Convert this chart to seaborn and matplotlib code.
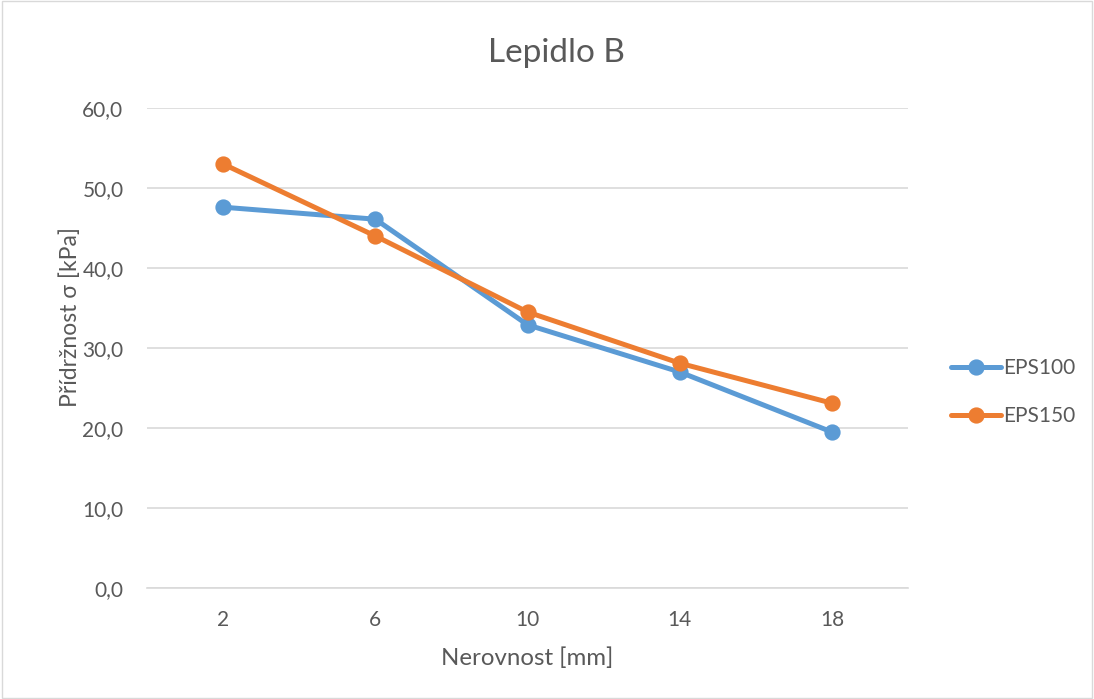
import matplotlib
matplotlib.use("Agg")
import matplotlib.pyplot as plt
import seaborn as sns
import pandas as pd
from matplotlib.patches import Rectangle
from matplotlib.ticker import FuncFormatter

categories = ["2", "6", "10", "14", "18"]
eps100 = [47.6, 46.1, 32.9, 27.0, 19.5]
eps150 = [53.0, 44.0, 34.5, 28.1, 23.1]
series_names = ["EPS100", "EPS150"]
colors = ["#5B9BD5", "#ED7D31"]

df = pd.DataFrame({
    "Nerovnost": categories * 2,
    "value": eps100 + eps150,
    "series": [series_names[0]] * len(categories) + [series_names[1]] * len(categories),
})

sns.set_theme(style="white")
plt.rcParams["font.family"] = ["Lato", "DejaVu Sans"]
txt = "#595959"

fig = plt.figure(figsize=(10.94, 6.99), dpi=100)
ax = fig.add_axes([0.1344, 0.1588, 0.830 - 0.1344, 0.8455 - 0.1588])

sns.pointplot(data=df, x="Nerovnost", y="value", hue="series", order=categories,
              hue_order=series_names, palette=colors, markers="o", linestyles="-",
              ax=ax, errorbar=None, markersize=9, linewidth=3.6)

ax.set_xlim(-0.5, len(categories) - 0.5)
ax.set_ylim(0, 60)
ax.set_yticks(range(0, 61, 10))
ax.yaxis.set_major_formatter(FuncFormatter(lambda v, p: f"{v:.1f}".replace(".", ",")))
ax.grid(axis="y", color="#D9D9D9", linewidth=1.2)
ax.grid(axis="x", visible=False)
ax.set_axisbelow(True)
for s in ["top", "right", "left"]:
    ax.spines[s].set_visible(False)
ax.spines["bottom"].set_color("#D9D9D9")
ax.spines["bottom"].set_linewidth(1.2)
ax.tick_params(axis="y", length=0, colors=txt, labelsize=15, pad=17)
ax.tick_params(axis="x", length=0, colors=txt, labelsize=15, pad=16)
ax.set_xlabel("Nerovnost [mm]", color=txt, fontsize=17.3, labelpad=12)
ax.set_ylabel("Přídržnost σ [kPa]", color=txt, fontsize=16.5, labelpad=1)
ax.yaxis.label.set_y(0.565)
fig.text(556 / 1094, 1 - 53 / 699, "Lepidlo B", color=txt, fontsize=24,
         ha="center", va="center")

handles, labels = ax.get_legend_handles_labels()
ax.legend_.remove()
fig.legend(handles, labels, loc="center left", bbox_to_anchor=(0.852, 0.439),
           frameon=False, fontsize=15, labelcolor=txt, handlelength=2.4,
           handletextpad=0.1, labelspacing=1.35)

fig.patches.append(Rectangle((0.002, 0.002), 0.996, 0.996, transform=fig.transFigure,
                             fill=False, edgecolor="#D9D9D9", linewidth=1))

fig.savefig("out.png", dpi=100, facecolor="white")
